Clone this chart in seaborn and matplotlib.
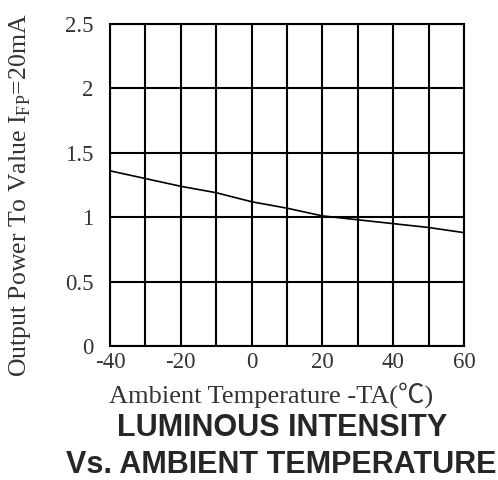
import matplotlib
matplotlib.use("Agg")
import matplotlib.pyplot as plt
import seaborn as sns
import pandas as pd

temperature = [-40, -30, -20, -10, 0, 10, 20, 30, 40, 50, 60]
relative_output = [1.36, 1.30, 1.24, 1.19, 1.12, 1.07, 1.01, 0.98, 0.95, 0.92, 0.88]
x_ticks = [-40, -20, 0, 20, 40, 60]
x_minor = [-30, -10, 10, 30, 50]
y_ticks = [0, 0.5, 1, 1.5, 2, 2.5]
y_tick_labels = ["0", "0.5", "1", "1.5", "2", "2.5"]

sns.set_style("white")
plt.rcParams['font.family'] = ['Liberation Serif', 'Noto Sans CJK JP', 'DejaVu Serif']
plt.rcParams['mathtext.fontset'] = 'custom'
plt.rcParams['mathtext.rm'] = 'Liberation Serif'
plt.rcParams['axes.unicode_minus'] = False

df = pd.DataFrame({"T": temperature, "P": relative_output})

fig = plt.figure(figsize=(4.98, 4.80), dpi=100)
ax = fig.add_axes([110/498, 1-346/480, (464-110)/498, (346-24)/480])
sns.lineplot(data=df, x="T", y="P", ax=ax, color="black", linewidth=1.2)

ax.set_xlim(-40, 60)
ax.set_ylim(0, 2.5)
ax.set_xticks(x_ticks)
ax.set_xticks(x_minor, minor=True)
ax.set_yticks(y_ticks)
ax.set_yticklabels(y_tick_labels)
ax.grid(True, which="both", axis="x", color="black", linewidth=1.5)
ax.grid(True, which="major", axis="y", color="black", linewidth=1.5)
ax.tick_params(which="both", length=0)
ax.tick_params(axis="y", pad=12, labelsize=16.5, labelcolor="#333333")
ax.tick_params(axis="x", pad=4, labelsize=16.5, labelcolor="#333333")
for s in ax.spines.values():
    s.set_visible(True)
    s.set_color("black")
    s.set_linewidth(1.5)

ax.set_xlabel("Ambient Temperature -TA(℃)", fontsize=19, color="#333333")
ax.xaxis.set_label_coords(0.456, -0.112)
ax.set_ylabel(r"Output Power To Value I$_{\mathrm{FP}}$=20mA", fontsize=18.5, color="#333333")
ax.yaxis.set_label_coords(-0.218, 0.469)

fig.text(282/498, 1-428/480, "LUMINOUS INTENSITY", ha="center", va="center",
         fontsize=22, fontweight="bold", family=["Liberation Sans", "DejaVu Sans"])
fig.text(281/498, 1-465/480, "Vs. AMBIENT TEMPERATURE", ha="center", va="center",
         fontsize=22, fontweight="bold", family=["Liberation Sans", "DejaVu Sans"])

fig.savefig("out.png", dpi=100)
